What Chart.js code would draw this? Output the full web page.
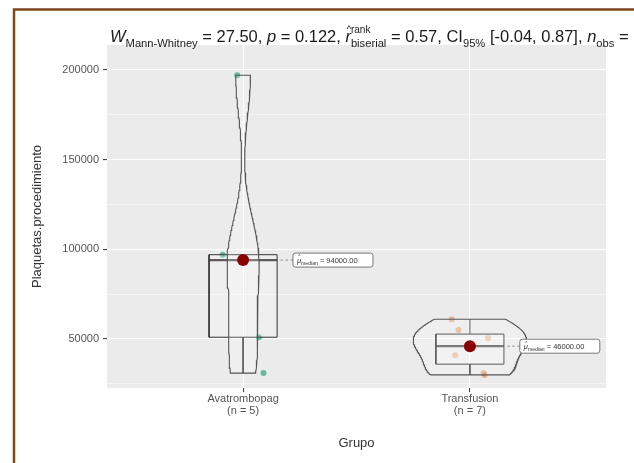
<!DOCTYPE html>
<html lang="es">
<head>
<meta charset="UTF-8">
<title>Plaquetas por grupo</title>
<script src="https://cdn.jsdelivr.net/npm/chart.js"></script>
<style>
  html, body { margin: 0; padding: 0; background: #fff; }
  canvas { display: block; }
</style>
</head>
<body>
<canvas id="grafico" width="634" height="463"></canvas>
<script>
// datos
const grupos = ['Avatrombopag', 'Transfusion'];
const nGrupo = ['(n = 5)', '(n = 7)'];
const avatrombopag = [31000, 51000, 94000, 97000, 197000];
const transfusion = [30000, 31000, 41000, 46000, 50500, 55000, 61000];
// jitter de cada punto (unidades del eje x), estimado de la figura
const jitterAva = [0.09, 0.07, 0, -0.09, -0.026];
const jitterTra = [0.065, 0.06, -0.065, 0, 0.08, -0.05, -0.08];
const yMayores = [50000, 100000, 150000, 200000];
const yMenores = [25000, 75000, 125000, 175000];
const coloresPuntos = ['rgba(27,158,119,0.65)', 'rgba(217,95,2,0.4)'];

// titulo con subíndices: [texto, estilo]
const titulo = [
  ['W', 'it'], ['Mann-Whitney', 'sub'], [' = 27.50, ', ''], ['p', 'it'], [' = 0.122, ', ''],
  ['r', 'hat'], [['rank', 'biserial'], 'supsub'], [' = 0.57, CI', ''], ['95%', 'sub'],
  [' [-0.04, 0.87], ', ''], ['n', 'it'], ['obs', 'sub'], [' = 12', '']
];

const series = [avatrombopag, transfusion];
const jitters = [jitterAva, jitterTra];

function cuantil(s, p) {
  const h = (s.length - 1) * p;
  const lo = Math.floor(h);
  const hi = Math.min(lo + 1, s.length - 1);
  return s[lo] + (h - lo) * (s[hi] - s[lo]);
}

function resumen(vals) {
  const s = [...vals].sort((a, b) => a - b);
  const q1 = cuantil(s, 0.25), med = cuantil(s, 0.5), q3 = cuantil(s, 0.75);
  const iqr = q3 - q1;
  const bajo = Math.min(...s.filter(v => v >= q1 - 1.5 * iqr));
  const alto = Math.max(...s.filter(v => v <= q3 + 1.5 * iqr));
  return { s, q1, med, q3, bajo, alto };
}

// densidad gaussiana (bw.nrd0), recortada al rango de los datos
function densidad(vals, n) {
  const m = vals.length;
  const media = vals.reduce((a, b) => a + b, 0) / m;
  const sd = Math.sqrt(vals.reduce((a, v) => a + (v - media) ** 2, 0) / (m - 1));
  const r = resumen(vals);
  const bw = 0.9 * Math.min(sd, (r.q3 - r.q1) / 1.34) * Math.pow(m, -0.2);
  const lo = r.s[0], hi = r.s[m - 1];
  const out = [];
  for (let k = 0; k < n; k++) {
    const y = lo + (hi - lo) * k / (n - 1);
    let d = 0;
    vals.forEach(v => { d += Math.exp(-0.5 * ((y - v) / bw) ** 2); });
    out.push({ y, d: d / (m * bw * Math.sqrt(2 * Math.PI)) });
  }
  return out;
}

const resumenes = series.map(resumen);
const densidades = series.map(v => densidad(v, 120));
const dMax = Math.max(...densidades.flat().map(p => p.d));

const datasets = [];
// medianas (arriba de todo)
datasets.push({
  data: resumenes.map((r, i) => ({ x: i + 1, y: r.med })),
  pointRadius: 6, pointBackgroundColor: '#8B0000', pointBorderWidth: 0, showLine: false
});
// violines
densidades.forEach((dens, i) => {
  const x = i + 1;
  const izq = dens.map(p => ({ x: x - p.d / dMax * 0.25, y: p.y }));
  const der = dens.slice().reverse().map(p => ({ x: x + p.d / dMax * 0.25, y: p.y }));
  const poli = izq.concat(der);
  poli.push(poli[0]);
  datasets.push({
    data: poli, showLine: true, pointRadius: 0, borderColor: '#555', borderWidth: 1.1,
    fill: 'shape', backgroundColor: 'rgba(255,255,255,0.2)', tension: 0
  });
});
// cajas, medianas y bigotes
resumenes.forEach((r, i) => {
  const x = i + 1, w = 0.15;
  datasets.push({
    data: [{ x: x - w, y: r.q1 }, { x: x + w, y: r.q1 }, { x: x + w, y: r.q3 }, { x: x - w, y: r.q3 }, { x: x - w, y: r.q1 }],
    showLine: true, pointRadius: 0, borderColor: '#333', borderWidth: 1,
    fill: 'shape', backgroundColor: 'rgba(255,255,255,0.2)'
  });
  datasets.push({
    data: [{ x: x - w, y: r.med }, { x: x + w, y: r.med }],
    showLine: true, pointRadius: 0, borderColor: '#333', borderWidth: 2.2
  });
  datasets.push({
    data: [{ x, y: r.q3 }, { x, y: r.alto }, { x, y: null }, { x, y: r.q1 }, { x, y: r.bajo }],
    showLine: true, pointRadius: 0, borderColor: '#333', borderWidth: 1, spanGaps: false
  });
});
// puntos individuales
series.forEach((vals, i) => {
  datasets.push({
    data: vals.map((v, k) => ({ x: i + 1 + jitters[i][k], y: v })),
    showLine: false, pointRadius: 3, pointBorderWidth: 0, pointBackgroundColor: coloresPuntos[i]
  });
});

const fondo = {
  id: 'fondo',
  beforeDraw(chart) {
    const { ctx, chartArea: a } = chart;
    ctx.save();
    ctx.fillStyle = '#fff';
    ctx.fillRect(0, 0, chart.width, chart.height);
    ctx.fillStyle = '#EBEBEB';
    ctx.fillRect(a.left, a.top, a.right - a.left, a.bottom - a.top);
    ctx.strokeStyle = '#7A4A1F';
    ctx.lineWidth = 2.5;
    ctx.beginPath();
    ctx.moveTo(14, chart.height);
    ctx.lineTo(14, 9.5);
    ctx.lineTo(chart.width, 9.5);
    ctx.stroke();
    ctx.restore();
  }
};

function textoRico(ctx, partes, x, y, tam) {
  const fam = 'px "Liberation Sans", Arial, sans-serif';
  const ts = Math.round(tam * 0.68 * 10) / 10;
  partes.forEach(([t, e]) => {
    if (e === 'sub') {
      ctx.font = ts + fam;
      ctx.fillText(t, x, y + tam * 0.28);
      x += ctx.measureText(t).width;
    } else if (e === 'supsub') {
      ctx.font = (ts * 0.9) + fam;
      ctx.fillText(t[0], x, y - tam * 0.55);
      ctx.font = ts + fam;
      ctx.fillText(t[1], x, y + tam * 0.28);
      x += Math.max(ctx.measureText(t[0]).width, ctx.measureText(t[1]).width);
    } else if (e === 'hat') {
      ctx.font = 'italic ' + tam + fam;
      const w = ctx.measureText(t).width;
      ctx.fillText(t, x, y);
      ctx.font = (tam * 0.6) + fam;
      const wh = ctx.measureText('^').width;
      ctx.fillText('^', x + (w - wh) / 2 + tam * 0.05, y - tam * 0.62);
      x += w;
    } else {
      ctx.font = (e === 'it' ? 'italic ' : '') + tam + fam;
      ctx.fillText(t, x, y);
      x += ctx.measureText(t).width;
    }
  });
  return x;
}

const anotaciones = {
  id: 'anotaciones',
  afterDatasetsDraw(chart) {
    const { ctx, scales: { x: sx, y: sy } } = chart;
    ctx.save();
    resumenes.forEach((r, i) => {
      const px = sx.getPixelForValue(i + 1 + 0.22);
      const py = sy.getPixelForValue(r.med);
      const desde = sx.getPixelForValue(i + 1 + 0.165);
      ctx.strokeStyle = '#777';
      ctx.lineWidth = 0.8;
      ctx.setLineDash([2.5, 2.5]);
      ctx.beginPath();
      ctx.moveTo(desde, py);
      ctx.lineTo(px, py);
      ctx.stroke();
      ctx.setLineDash([]);
      const w = 80, h = 14;
      ctx.fillStyle = '#fff';
      ctx.strokeStyle = '#777';
      ctx.lineWidth = 1;
      ctx.beginPath();
      ctx.roundRect(px, py - h / 2, w, h, 2.5);
      ctx.fill();
      ctx.stroke();
      ctx.fillStyle = '#333';
      ctx.textBaseline = 'alphabetic';
      textoRico(ctx, [['\u03bc', 'hat'], ['median', 'sub'], [' = ' + r.med.toFixed(2), '']], px + 4, py + 3, 7.5);
    });
    ctx.restore();
  },
  afterDraw(chart) {
    const { ctx } = chart;
    ctx.save();
    ctx.fillStyle = '#1a1a1a';
    ctx.textBaseline = 'alphabetic';
    textoRico(ctx, titulo, 110, 42, 16.5);
    ctx.restore();
  }
};

Chart.defaults.font.family = '"Liberation Sans", Arial, sans-serif';

new Chart(document.getElementById('grafico'), {
  type: 'scatter',
  data: { datasets },
  options: {
    responsive: false,
    animation: false,
    layout: { padding: { left: 0, right: 28, top: 45, bottom: 0 } },
    plugins: { legend: { display: false }, tooltip: { enabled: false } },
    scales: {
      x: {
        type: 'linear', min: 0.4, max: 2.6,
        afterBuildTicks: s => { s.ticks = grupos.map((g, i) => ({ value: i + 1 })); },
        afterFit: s => { s.height = 75; },
        ticks: {
          autoSkip: false, maxRotation: 0, padding: 1, color: '#555',
          font: { size: 11, lineHeight: 1.1 },
          callback: v => [grupos[Math.round(v) - 1], nGrupo[Math.round(v) - 1]]
        },
        grid: { color: '#fff', lineWidth: 1.1, tickColor: '#444', tickLength: 4 },
        border: { display: false },
        title: { display: true, text: 'Grupo', color: '#333', font: { size: 13 }, padding: { top: 0, bottom: 12 } }
      },
      y: {
        min: 22700, max: 213900,
        afterBuildTicks: s => { s.ticks = yMenores.concat(yMayores).sort((a, b) => a - b).map(v => ({ value: v })); },
        afterFit: s => { s.width = 107; },
        ticks: {
          autoSkip: false, padding: 4, color: '#555', font: { size: 11 },
          callback: v => (yMayores.includes(v) ? String(v) : '')
        },
        grid: {
          color: '#fff',
          lineWidth: c => (yMayores.includes(c.tick.value) ? 1.1 : 0.5),
          tickColor: c => (yMayores.includes(c.tick.value) ? '#444' : 'rgba(0,0,0,0)'),
          tickLength: 4
        },
        border: { display: false },
        title: { display: true, text: 'Plaquetas.procedimiento', color: '#333', font: { size: 13 }, padding: { top: 30, bottom: 0 } }
      }
    }
  },
  plugins: [fondo, anotaciones]
});
</script>
</body>
</html>
